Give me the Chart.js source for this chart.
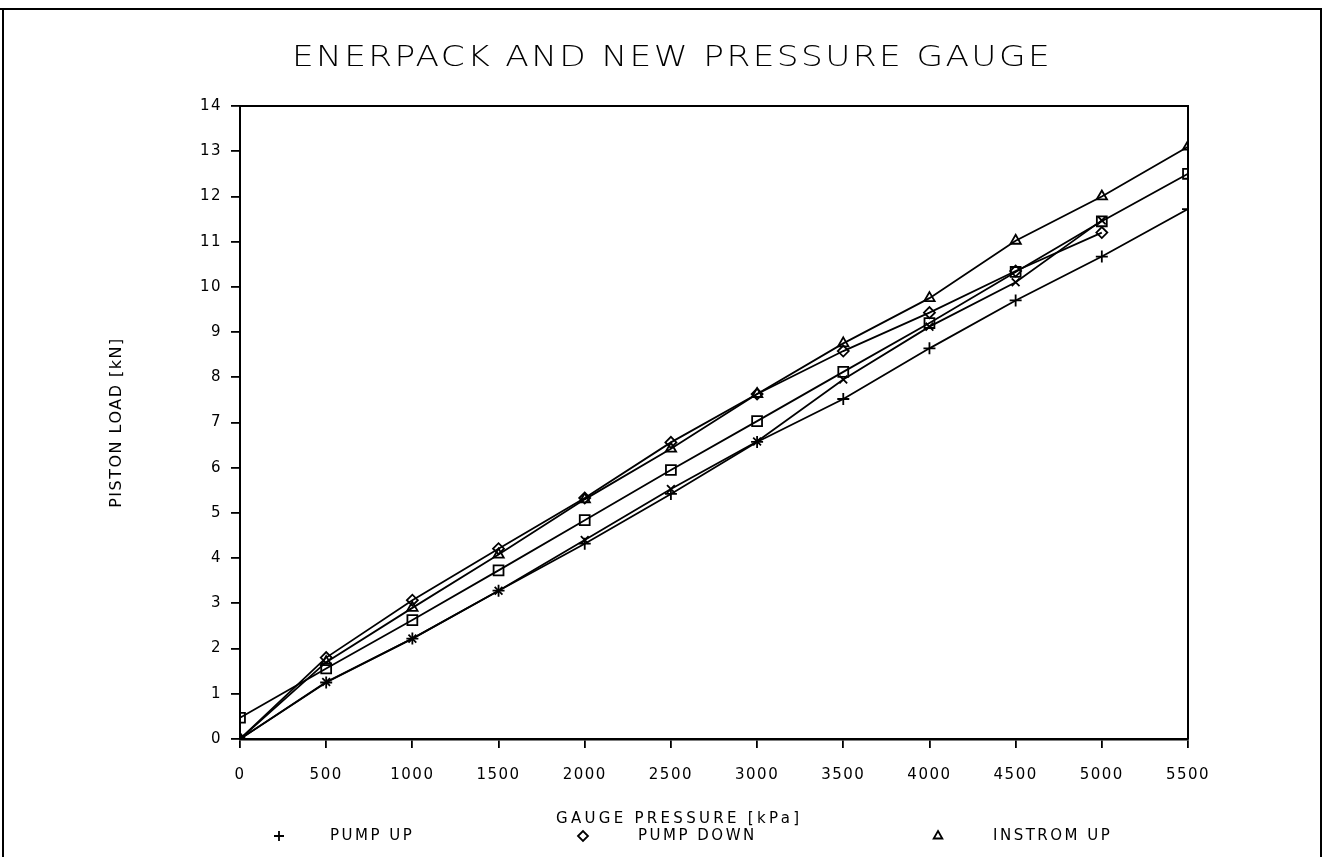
<!DOCTYPE html>
<html>
<head>
<meta charset="utf-8">
<script src="https://cdn.jsdelivr.net/npm/chart.js@4.4.1/dist/chart.umd.min.js"></script>
<style>
html,body{margin:0;padding:0;background:#fff;}
#wrap{width:1325px;height:857px;position:relative;}
</style>
</head>
<body>
<div id="wrap"><canvas id="c" width="1325" height="857"></canvas></div>
<script>
// ---- text ----
const chartTitle = 'ENERPACK AND NEW PRESSURE GAUGE';
const xAxisTitle = 'GAUGE PRESSURE [kPa]';
const yAxisTitle = 'PISTON LOAD [kN]';

// ---- data ----
const gaugePressure = [0, 500, 1000, 1500, 2000, 2500, 3000, 3500, 4000, 4500, 5000, 5500];
const pumpUp        = [0, 1.25, 2.22, 3.28, 4.32, 5.42, 6.57, 7.52, 8.64, 9.70, 10.67, 11.72];
const pumpDown      = [0, 1.80, 3.07, 4.21, 5.33, 6.56, 7.63, 8.58, 9.43, 10.35, 11.20, null];
const instromUp     = [0, 1.70, 2.90, 4.08, 5.30, 6.42, 7.63, 8.75, 9.75, 11.02, 12.00, 13.10];
const squareSeries  = [0.47, 1.56, 2.63, 3.73, 4.84, 5.95, 7.03, 8.12, 9.20, 10.33, 11.45, 12.50];
const crossSeries   = [0, 1.26, 2.22, 3.28, 4.40, 5.53, 6.58, 7.95, 9.12, 10.10, 11.47, null];

// ---- ticks ----
const xTickValues = [0, 500, 1000, 1500, 2000, 2500, 3000, 3500, 4000, 4500, 5000, 5500];
const yTickValues = [0, 1, 2, 3, 4, 5, 6, 7, 8, 9, 10, 11, 12, 13, 14];

function pts(ys) {
  const out = [];
  gaugePressure.forEach((x, i) => { if (ys[i] !== null && ys[i] !== undefined) out.push({x: x, y: ys[i]}); });
  return out;
}

function ds(label, ys, style, radius, inLegend) {
  return {
    label: label,
    data: pts(ys),
    showLine: true,
    fill: false,
    tension: 0,
    borderColor: '#000',
    borderWidth: 1.8,
    pointStyle: style,
    pointRadius: radius,
    pointHoverRadius: radius,
    pointBackgroundColor: 'rgba(255,255,255,0)',
    pointBorderColor: '#000',
    pointBorderWidth: 1.8,
    inLegend: inLegend
  };
}

const FONT = '"DejaVu Sans", "Liberation Sans", sans-serif';

const decorPlugin = {
  id: 'decor',
  beforeDraw(chart) {
    const ctx = chart.ctx;
    ctx.save();
    ctx.fillStyle = '#fff';
    ctx.fillRect(0, 0, chart.width, chart.height);
    ctx.strokeStyle = '#000';
    ctx.lineWidth = 2;
    ctx.beginPath();
    ctx.moveTo(0, 9); ctx.lineTo(1322, 9);
    ctx.moveTo(3, 9); ctx.lineTo(3, chart.height);
    ctx.moveTo(1321, 9); ctx.lineTo(1321, chart.height);
    ctx.stroke();
    ctx.restore();
    ctx.letterSpacing = '1.5px';
  },
  afterDraw(chart) {
    const ctx = chart.ctx;
    const a = chart.chartArea;
    ctx.save();
    ctx.letterSpacing = '0px';
    ctx.strokeStyle = '#000';
    ctx.lineWidth = 2;
    ctx.beginPath();
    ctx.moveTo(a.left - 1, a.top); ctx.lineTo(a.right, a.top); ctx.lineTo(a.right, a.bottom);
    ctx.stroke();

    // title: wide plotter-like lettering, stretched horizontally to the reference width
    ctx.fillStyle = '#000';
    ctx.textAlign = 'left';
    ctx.textBaseline = 'middle';
    ctx.font = '200 29px "DejaVu Sans ExtraLight", ' + FONT;
    ctx.letterSpacing = '2px';
    let w0 = ctx.measureText(chartTitle).width;
    const sx = 760 / w0;
    ctx.save();
    ctx.translate(292, 58);
    ctx.scale(sx, 1);
    ctx.fillText(chartTitle, 0, 0);
    ctx.restore();

    // x axis title
    ctx.font = '15px ' + FONT;
    ctx.letterSpacing = '0px';
    w0 = ctx.measureText(xAxisTitle).width;
    let sp = Math.max(0, (243 - w0) / (xAxisTitle.length - 1));
    ctx.letterSpacing = sp + 'px';
    ctx.fillText(xAxisTitle, 556, 819);

    // legend
    const markX = [279, 583, 938];
    const textX = [330, 638, 993];
    ctx.letterSpacing = '2.5px';
    ctx.font = '15px ' + FONT;
    let k = 0;
    chart.data.datasets.forEach((d) => {
      if (!d.inLegend) return;
      const y = 836;
      ctx.save();
      ctx.strokeStyle = '#000';
      ctx.fillStyle = 'rgba(255,255,255,0)';
      ctx.lineWidth = 1.8;
      if (Chart.helpers && Chart.helpers.drawPoint) {
        Chart.helpers.drawPoint(ctx, {pointStyle: d.pointStyle, radius: 5, borderWidth: 1.8, rotation: 0}, markX[k], y);
      }
      ctx.restore();
      ctx.fillStyle = '#000';
      ctx.fillText(d.label, textX[k], y);
      k++;
    });
    ctx.restore();
  }
};

const chart = new Chart(document.getElementById('c'), {
  type: 'scatter',
  data: {
    datasets: [
      ds('PUMP UP', pumpUp, 'cross', 6, true),
      ds('PUMP DOWN', pumpDown, 'rectRot', 5.5, true),
      ds('INSTROM UP', instromUp, 'triangle', 6, true),
      ds('INSTROM DOWN', squareSeries, 'rect', 7, false),
      ds('NEW GAUGE', crossSeries, 'crossRot', 5.5, false)
    ]
  },
  options: {
    responsive: false,
    animation: false,
    devicePixelRatio: 1,
    layout: { padding: { top: 106, right: 137, bottom: 0, left: 0 } },
    plugins: {
      legend: { display: false },
      title: { display: false },
      tooltip: { enabled: false }
    },
    scales: {
      x: {
        type: 'linear',
        position: 'bottom',
        min: 0,
        max: 5500,
        afterBuildTicks: (s) => { s.ticks = xTickValues.map(v => ({value: v})); },
        afterFit: (s) => { s.height = 118; },
        ticks: {
          color: '#000',
          font: { family: FONT, size: 15 },
          padding: 18,
          maxRotation: 0,
          autoSkip: false,
          callback: (v) => String(v)
        },
        grid: { display: true, drawOnChartArea: false, drawTicks: true, tickLength: 9, color: '#000', lineWidth: 1.8 },
        border: { display: true, color: '#000', width: 2.5 },
        title: { display: false }
      },
      y: {
        type: 'linear',
        position: 'left',
        min: 0,
        max: 14,
        afterBuildTicks: (s) => { s.ticks = yTickValues.map(v => ({value: v})); },
        afterFit: (s) => { s.width = 240; },
        ticks: {
          color: '#000',
          font: { family: FONT, size: 15 },
          padding: 9,
          autoSkip: false,
          callback: (v) => String(v)
        },
        grid: { display: true, drawOnChartArea: false, drawTicks: true, tickLength: 9, color: '#000', lineWidth: 1.8 },
        border: { display: true, color: '#000', width: 2 },
        title: {
          display: true,
          text: yAxisTitle,
          color: '#000',
          font: { family: FONT, size: 16 },
          padding: { top: 107, bottom: 0 }
        }
      }
    }
  },
  plugins: [decorPlugin]
});
</script>
</body>
</html>
